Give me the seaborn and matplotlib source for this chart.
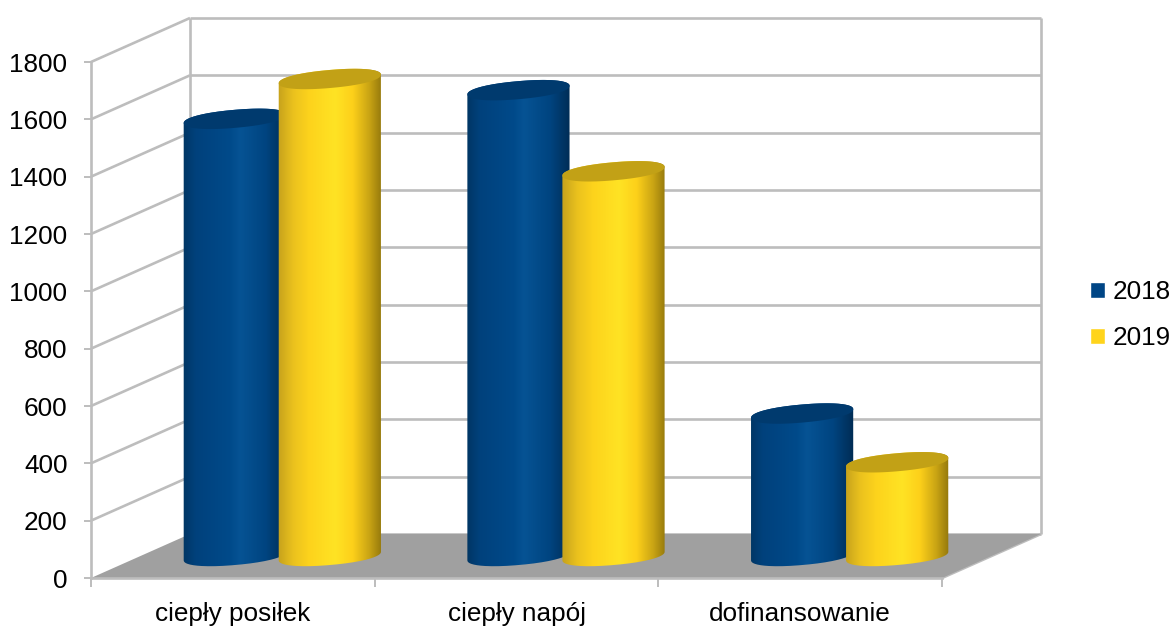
import numpy as np
import pandas as pd
import matplotlib
matplotlib.use("Agg")
import matplotlib.pyplot as plt
from matplotlib.colors import LinearSegmentedColormap
from matplotlib.patches import PathPatch, Polygon
from matplotlib.path import Path
import seaborn as sns

# Chart data
categories = ["ciepły posiłek", "ciepły napój", "dofinansowanie"]
values_2018 = [1525, 1625, 497]
values_2019 = [1664, 1342, 327]
years = ["2018", "2019"]
y_ticks = [0, 200, 400, 600, 800, 1000, 1200, 1400, 1600, 1800]

sns.set_theme(style="white")
plt.rcParams["font.family"] = ["Liberation Sans", "DejaVu Sans"]
FONT = 18.8
GRID = "#BDBDBD"
FLOOR = "#A0A0A0"
GRID_LW = 1.9

W, H = 1171, 626
fig = plt.figure(figsize=(W / 100, H / 100), dpi=100)
ax = fig.add_axes([91 / W, (H - 578) / H, 851 / W, 516 / H])

table = pd.DataFrame({
    "kategoria": categories * 2,
    "wartosc": values_2018 + values_2019,
    "rok": [years[0]] * 3 + [years[1]] * 3,
})
palette = {"2018": "#004585", "2019": "#FFD41C"}
sns.barplot(data=table, x="kategoria", y="wartosc", hue="rok", hue_order=years,
            palette=palette, width=0.67, saturation=1, ax=ax)
ax.set_xlim(-0.5, 2.5)
ax.set_ylim(0, 1800)

# Size of one pixel along each data axis, and the oblique depth of the box
px_x = 3 / 851
px_y = 1800 / 516
depth_x = 99 * px_x
depth_y = 44 * px_y

line_kw = dict(color=GRID, lw=GRID_LW, clip_on=False, solid_capstyle="butt", zorder=1)
x0, x1 = ax.get_xlim()

# Floor of the box
ax.add_patch(Polygon([(x0, 0), (x1, 0), (x1 + depth_x, depth_y), (x0 + depth_x, depth_y)],
                     closed=True, facecolor=FLOOR, edgecolor="none",
                     clip_on=False, zorder=1.5))

# Side wall and back wall gridlines
for tick in y_ticks:
    if tick > 0:
        ax.plot([x0, x0 + depth_x], [tick, tick + depth_y], **line_kw)
    ax.plot([x0 + depth_x, x1 + depth_x], [tick + depth_y] * 2, **line_kw)
ax.plot([x0 + depth_x] * 2, [depth_y, 1800 + depth_y], **line_kw)
ax.plot([x1 + depth_x] * 2, [depth_y, 1800 + depth_y], **line_kw)
ax.plot([x1, x1 + depth_x], [0, depth_y], **line_kw)

# Horizontal shading across each cylinder body
shades = {
    "2018": LinearSegmentedColormap.from_list("s18", [
        (0.00, "#013664"), (0.12, "#00417C"), (0.45, "#004A8A"),
        (0.55, "#065394"), (0.80, "#004480"), (1.00, "#002C54")]),
    "2019": LinearSegmentedColormap.from_list("s19", [
        (0.00, "#C6A21C"), (0.15, "#EBC21E"), (0.30, "#FDD31C"),
        (0.55, "#FFE324"), (0.72, "#FDD01A"), (0.88, "#C9A414"),
        (1.00, "#94780C")]),
}
lids = {"2018": "#003A6E", "2019": "#C2A116"}
ramp = np.linspace(0, 1, 256)[None, :]

TILT = np.deg2rad(5.0)
SEMI_MINOR_PX = 9.0
ROUNDNESS = 0.92


def rim(cx, cy, semi_major_px, start, stop):
    """Points along a tilted, slightly squared rim, returned in data coordinates."""
    t = np.linspace(start, stop, 80)
    u = semi_major_px * np.sign(np.cos(t)) * np.abs(np.cos(t)) ** ROUNDNESS
    v = SEMI_MINOR_PX * np.sign(np.sin(t)) * np.abs(np.sin(t)) ** ROUNDNESS
    xs = cx + (u * np.cos(TILT) - v * np.sin(TILT)) * px_x
    ys = cy + (u * np.sin(TILT) + v * np.cos(TILT)) * px_y
    return np.column_stack([xs, ys])


def draw_cylinder(bar, year, order):
    radius = bar.get_width() * 0.54
    semi_major_px = radius / px_x
    cx = bar.get_x() + bar.get_width() / 2 + depth_x / 2
    base = depth_y / 2
    top = base + bar.get_height()

    # Body outline: lower half of the base rim, then upper half of the top rim
    lower = rim(cx, base, semi_major_px, np.pi, 2 * np.pi)
    upper = rim(cx, top, semi_major_px, 0, np.pi)
    outline = np.vstack([lower, upper, lower[:1]])
    body = PathPatch(Path(outline), facecolor="none", edgecolor="none",
                     transform=ax.transData, clip_on=False, zorder=order)
    ax.add_patch(body)

    im = ax.imshow(ramp, cmap=shades[year], aspect="auto", interpolation="bilinear",
                   extent=(cx - radius * 1.01, cx + radius * 1.01,
                           base - 20 * px_y, top + 20 * px_y),
                   zorder=order + 0.1)
    # Cylinders stand partly beyond the front axis, so only the outline clips them
    im.set_clip_box(fig.bbox)
    im.set_clip_path(body)

    lid = Polygon(rim(cx, top, semi_major_px, 0, 2 * np.pi), closed=True,
                  facecolor=lids[year], edgecolor="none", clip_on=False,
                  zorder=order + 0.2)
    ax.add_patch(lid)


# The seaborn bars supply position, width and height for each cylinder
order = 2
for cat_index in range(len(categories)):
    for container, year in zip(ax.containers, years):
        bar = container.patches[cat_index]
        bar.set_visible(False)
        draw_cylinder(bar, year, order)
        order += 1

ax.set_xlim(x0, x1)
ax.set_ylim(0, 1800)

# Axes, ticks and labels
sns.despine(ax=ax, top=True, right=True)
for side in ("left", "bottom"):
    ax.spines[side].set_color(GRID)
    ax.spines[side].set_linewidth(GRID_LW)
    ax.spines[side].set_zorder(1.8)
ax.set(xlabel="", ylabel="")
ax.set_yticks(y_ticks)
ax.set_xticks(range(len(categories)))
ax.set_xticklabels(categories)
ax.set_xticks(np.arange(x0, x1 + 0.01), minor=True)
ax.tick_params(axis="y", which="major", left=True, length=5, width=1.4, color=GRID,
               pad=12, labelsize=FONT, labelcolor="black")
ax.tick_params(axis="x", which="major", bottom=True, length=0, pad=17.5,
               labelsize=FONT, labelcolor="black")
ax.tick_params(axis="x", which="minor", bottom=True, length=6.5, width=1.4, color=GRID)

# Legend to the right of the box
sns.move_legend(ax, loc="center left", bbox_to_anchor=(1090 / W, (H - 315) / H),
                bbox_transform=fig.transFigure, title=None, frameon=False,
                fontsize=FONT, labelcolor="black", handlelength=0.56, handleheight=0.56,
                handletextpad=0.3, labelspacing=0.84, borderpad=0, borderaxespad=0)

fig.savefig("out.png", dpi=100, facecolor="white")
